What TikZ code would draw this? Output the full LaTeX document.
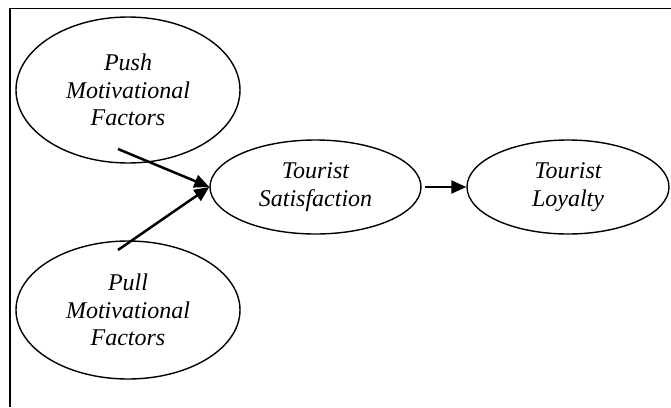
\documentclass[tikz,border=0pt]{standalone}
\usepackage{fontspec}
\setmainfont{Liberation Serif}
\usetikzlibrary{arrows.meta,positioning,shapes.geometric}

\begin{document}
\begin{tikzpicture}[x=1pt, y=-1pt,
  factor/.style={ellipse, draw, line width=1.4pt, inner sep=0pt, align=center,
    font=\fontsize{24}{27.5}\selectfont\itshape},
  arrow/.style={-{Triangle[length=15pt, width=13pt]}, line width=2.5pt}
]
  \useasboundingbox (0,0) rectangle (671,407);
  % Frame (top and left edges only)
  \draw[line width=1.6pt] (671,8.5) -- (10,8.5) -- (10,407);

  % Constructs
  \node[factor, minimum width=224pt, minimum height=146pt] (push) at (128,90) {Push\\Motivational\\Factors};
  \node[factor, minimum width=224pt, minimum height=138pt] (pull) at (128,310) {Pull\\Motivational\\Factors};
  \node[factor, minimum width=211pt, minimum height=94pt] (sat) at (315.5,187) {Tourist\\Satisfaction};
  \node[factor, minimum width=202pt, minimum height=94pt] (loyal) at (568,187) {Tourist\\Loyalty};

  % Arrow tails inside the factor ellipses
  \coordinate (pushtail) at (118,149);
  \coordinate (pulltail) at (118,250);

  % Paths
  \draw[arrow] (pushtail) -- (sat.west);
  \draw[arrow] (pulltail) -- (sat.west);
  \draw[arrow, shorten <=3pt] (sat.east) -- (loyal.west);
\end{tikzpicture}
\end{document}
